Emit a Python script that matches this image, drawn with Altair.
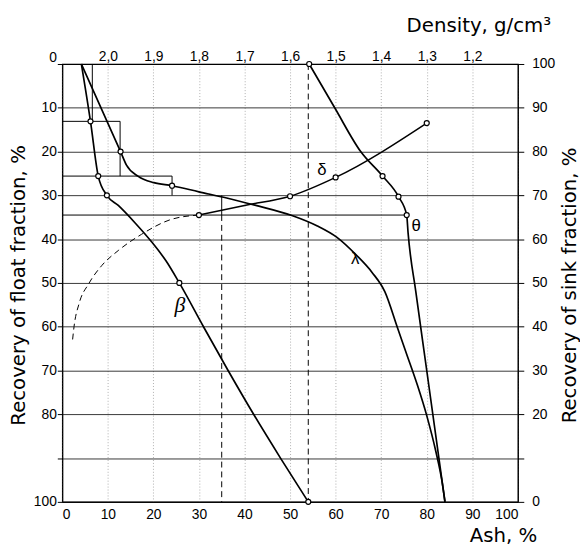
import altair as alt
import pandas as pd

FONT = "Liberation Sans"
TFONT = "DejaVu Sans"

# --- curves (ash %, recovery of float fraction %) ---
beta_ash = [4.2, 6.2, 7.9, 9.8, 12.3, 16.0, 19.6, 22.8, 25.7, 31.0, 36.4, 42.0, 47.9, 54.0]
beta_float = [0, 13.1, 25.6, 30.0, 32.3, 36.3, 40.6, 45.0, 50.0, 60.0, 70.0, 80.0, 90.0, 100.0]

lambda_ash = [4.2, 12.8, 14.1, 16.6, 20.1, 24.1, 30.0, 36.1, 42.5, 50.4, 56.0, 60.3, 64.5, 68.0,
              70.8, 73.5, 75.5, 78.0, 80.0, 82.0, 83.3, 84.0]
lambda_float = [0, 20.0, 23.1, 25.6, 27.1, 27.8, 29.2, 30.6, 32.3, 34.6, 37.0, 39.6, 43.6, 47.6,
                52.0, 60.0, 66.0, 73.5, 80.3, 88.5, 95.0, 100.0]

theta_ash = [54.2, 59.8, 65.5, 70.3, 73.8, 75.6, 75.9, 77.6, 80.0, 84.0]
theta_float = [0, 10.0, 20.0, 25.6, 30.3, 34.5, 38.5, 52.0, 70.0, 100.0]

# densimetric curve (density g/cm3, recovery of float fraction %)
delta_density = [1.8, 1.7, 1.6, 1.5, 1.3]
delta_float = [34.5, 32.3, 30.2, 25.9, 13.5]
delta_ext_density = [1.8, 1.861, 1.926, 1.977, 2.013, 2.042, 2.063, 2.074, 2.078]
delta_ext_float = [34.5, 35.5, 38.9, 42.6, 46.0, 50.2, 54.7, 59.9, 63.7]
delta_mark_density = [1.8, 1.6, 1.5, 1.3]
delta_mark_float = [34.5, 30.2, 25.9, 13.5]

# marked points
mark_ash = [6.2, 7.9, 9.8, 25.7, 54.0, 12.8, 24.1, 54.2, 70.3, 73.8, 75.6]
mark_float = [13.1, 25.6, 30.0, 50.0, 100.0, 20.0, 27.8, 0, 25.6, 30.3, 34.5]

# step lines of the elementary fractions
step_ash = [0, 0, 0, 6.6, 12.7, 24.1, 35.0]
step_ash2 = [12.7, 24.1, 75.6, 6.6, 12.7, 24.1, 35.0]
step_float = [13.1, 25.6, 34.5, 0, 13.1, 25.6, 30.0]
step_float2 = [13.1, 25.6, 34.5, 13.1, 25.6, 30.0, 34.5]

dash_ash = [35.0, 54.0]
dash_float = [34.5, 0]
dash_float2 = [100, 100]

# curve labels
label_text = ["δ", "λ", "θ"]
label_ash = [57.0, 64.3, 77.7]
label_float = [24.3, 44.5, 37.1]
beta_label_ash = [25.8]
beta_label_float = [55.0]

ash_ticks = list(range(0, 101, 10))
float_ticks = list(range(0, 101, 10))
density_ticks = [2.0, 1.9, 1.8, 1.7, 1.6, 1.5, 1.4, 1.3, 1.2]


def mk(a, f, name):
    return pd.DataFrame({"ash": a, "float": f, "curve": name, "order": list(range(len(a)))})


curves = pd.concat([mk(beta_ash, beta_float, "beta"),
                    mk(lambda_ash, lambda_float, "lambda"),
                    mk(theta_ash, theta_float, "theta")], ignore_index=True)
marks = pd.DataFrame({"ash": mark_ash, "float": mark_float})
steps = pd.DataFrame({"ash": step_ash, "ash2": step_ash2, "float": step_float, "float2": step_float2})
dashes = pd.DataFrame({"ash": dash_ash, "ash2": dash_ash, "float": dash_float, "float2": dash_float2})
labels = pd.DataFrame({"ash": label_ash, "float": label_float, "text": label_text})
blabel = pd.DataFrame({"ash": beta_label_ash, "float": beta_label_float, "text": ["β"]})

delta = pd.DataFrame({"density": delta_density, "float": delta_float, "order": list(range(len(delta_density)))})
delta_ext = pd.DataFrame({"density": delta_ext_density, "float": delta_ext_float,
                          "order": list(range(len(delta_ext_density)))})
delta_marks = pd.DataFrame({"density": delta_mark_density, "float": delta_mark_float})

fscale = alt.Scale(domain=[0, 100], reverse=True, nice=False, zero=False)

X = alt.X("ash:Q", scale=alt.Scale(domain=[0, 100], nice=False, zero=False),
          axis=alt.Axis(orient="bottom", values=ash_ticks, grid=True, gridColor="#9a9a9a",
                        gridDash=[1, 2], gridWidth=0.8, ticks=False, labelFontSize=14,
                        labelPadding=6, title="Ash, %", titleFont=TFONT, titleFontSize=20,
                        titleX=447, titleY=40, titleAlign="center", titleBaseline="alphabetic"))
Y = alt.Y("float:Q", scale=fscale,
          axis=alt.Axis(orient="left", values=float_ticks, grid=True, gridColor="#222222",
                        gridWidth=0.9, ticks=True, tickSize=5, tickColor="black", labelPadding=1,
                        labelFontSize=14,
                        labelExpr="datum.value == 90 ? '' : datum.label",
                        labelBaseline={"condition": {"test": "datum.value == 0", "value": "bottom"},
                                       "value": "middle"},
                        title="Recovery of float fraction, %", titleFont=TFONT, titleFontSize=20,
                        titleAngle=270, titleX=-38, titleY=224, titleAlign="center",
                        titleBaseline="alphabetic"))

line_layer = alt.Chart(curves).mark_line(color="black", strokeWidth=1.7, interpolate="monotone").encode(
    x=X, y=Y, detail="curve:N", order="order:Q")
step_layer = alt.Chart(steps).mark_rule(color="black", strokeWidth=1).encode(
    x="ash:Q", x2="ash2:Q", y="float:Q", y2="float2:Q")
dash_layer = alt.Chart(dashes).mark_rule(color="black", strokeWidth=1, strokeDash=[6, 4]).encode(
    x="ash:Q", x2="ash2:Q", y="float:Q", y2="float2:Q")
mark_layer = alt.Chart(marks).mark_circle(size=26, color="white", stroke="black", strokeWidth=1.2,
                                          opacity=1).encode(x="ash:Q", y="float:Q")
label_layer = alt.Chart(labels).mark_text(font=FONT, fontSize=17, color="black").encode(
    x="ash:Q", y="float:Q", text="text:N")
blabel_layer = alt.Chart(blabel).mark_text(font="Liberation Serif", fontStyle="italic", fontSize=22,
                                           color="black").encode(x="ash:Q", y="float:Q", text="text:N")

main = alt.layer(line_layer, step_layer, dash_layer, mark_layer, label_layer, blabel_layer)

XD = alt.X("density:Q", scale=alt.Scale(domain=[1.1, 2.1], reverse=True, nice=False, zero=False),
           axis=alt.Axis(orient="top", values=density_ticks,
                         labelExpr="replace(format(datum.value, '.1f'), '.', ',')",
                         grid=False, ticks=False, labelPadding=1, labelFontSize=14,
                         title="Density, g/cm³", titleFont=TFONT, titleFontSize=20, titleX=422,
                         titleY=-33, titleAlign="center", titleBaseline="alphabetic"))
YR = alt.Y("float:Q", scale=fscale,
           axis=alt.Axis(orient="right", values=float_ticks, grid=False, tickSize=6, tickColor="black",
                         labelPadding=8, labelFontSize=14,
                         labelExpr="datum.value == 90 ? '' : format(100 - datum.value, 'd')",
                         title="Recovery of sink fraction, %", titleFont=TFONT, titleFontSize=20,
                         titleAngle=270, titleX=58, titleY=224, titleAlign="center",
                         titleBaseline="alphabetic"))

d_line = alt.Chart(delta).mark_line(color="black", strokeWidth=1.5, interpolate="monotone").encode(
    x=XD, y=YR, order="order:Q")
d_ext = alt.Chart(delta_ext).mark_line(color="black", strokeWidth=1, strokeDash=[6, 4],
                                       interpolate="monotone").encode(
    x="density:Q", y="float:Q", order="order:Q")
d_marks = alt.Chart(delta_marks).mark_circle(size=26, color="white", stroke="black", strokeWidth=1.2,
                                             opacity=1).encode(x="density:Q", y="float:Q")

dens = alt.layer(d_line, d_ext, d_marks)

chart = alt.layer(main, dens).resolve_scale(x="independent", y="independent").properties(
    width=462, height=444,
    autosize=alt.AutoSizeParams(type="none"),
    padding={"left": 55, "top": 53, "right": 63, "bottom": 43},
).configure_view(stroke="black", strokeWidth=1.2).configure_axis(
    domainColor="black", labelColor="black", titleColor="black", labelFont=FONT,
    titleFont=TFONT, titleFontWeight="normal")

chart.save("out.html", embed_options={"renderer": "svg", "actions": False})
